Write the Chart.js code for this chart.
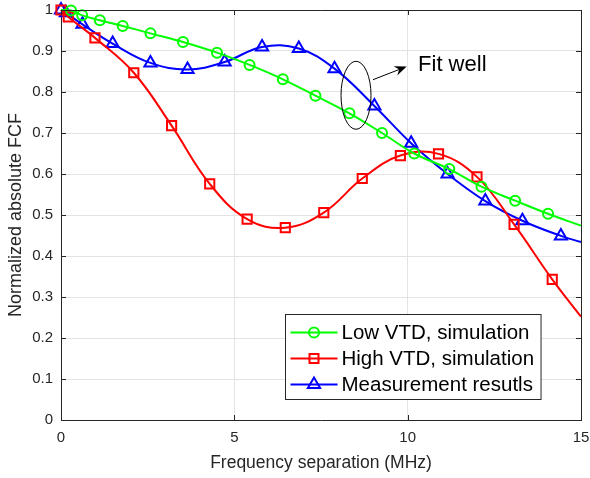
<!DOCTYPE html>
<html lang="en">

<head>
  <meta charset="UTF-8" />
  <title>Normalized absolute FCF vs frequency separation</title>
  <script src="https://cdn.jsdelivr.net/npm/chart.js"></script>
  <style>
    html, body { margin: 0; padding: 0; background: #fff; }
    #wrap { width: 590px; height: 478px; }
  </style>
</head>

<body>
  <div id="wrap"><canvas id="fcfChart"></canvas></div>

  <script>
    // values: x in MHz, y = normalized absolute FCF
    // first/last entries with no marker are only where the curve starts/ends
    const lowVtdX = [0, 0.29, 0.61, 1.12, 1.78, 2.58, 3.52, 4.5, 5.44, 6.4, 7.34, 8.32, 9.26, 10.19, 11.2, 12.13, 13.1, 14.05, 15];
    const lowVtdY = [1.0, 0.999, 0.987, 0.975, 0.961, 0.943, 0.922, 0.896, 0.866, 0.831, 0.791, 0.748, 0.700, 0.650, 0.612, 0.569, 0.535, 0.503, 0.474];
    const lowVtdNoMark = [0, 18];

    const highVtdX = [0, 0.21, 0.98, 2.1, 3.19, 4.29, 5.37, 6.47, 7.58, 8.69, 9.79, 10.89, 12.0, 13.07, 14.17, 15];
    const highVtdY = [1.0, 0.983, 0.932, 0.847, 0.718, 0.576, 0.490, 0.469, 0.506, 0.589, 0.645, 0.649, 0.593, 0.477, 0.343, 0.252];
    const highVtdNoMark = [15];

    const measX = [0, 0.14, 0.62, 1.49, 2.58, 3.65, 4.72, 5.8, 6.86, 7.89, 9.04, 10.1, 11.15, 12.24, 13.31, 14.42, 15];
    const measY = [1.0, 0.993, 0.965, 0.918, 0.871, 0.855, 0.873, 0.910, 0.906, 0.857, 0.766, 0.675, 0.600, 0.534, 0.486, 0.449, 0.434];
    const measNoMark = [16];

    const seriesLabels = ["Low VTD, simulation", "High VTD, simulation", "Measurement resutls"];
    const xTicks = [0, 5, 10, 15];
    const yTicks = [0, 0.1, 0.2, 0.3, 0.4, 0.5, 0.6, 0.7, 0.8, 0.9, 1];

    const FONT = '"Liberation Sans", Arial, Helvetica, sans-serif';
    const AXIS_COLOR = "#262626";

    function toPoints(xs, ys) {
      return xs.map((x, i) => ({ x: x, y: ys[i] }));
    }

    function makeSet(label, xs, ys, noMark, color, style, radius) {
      return {
        label: label,
        data: toPoints(xs, ys),
        borderColor: color,
        backgroundColor: "rgba(0,0,0,0)",
        borderWidth: 2,
        tension: 0.4,
        pointStyle: style,
        pointRadius: ctx => noMark.includes(ctx.dataIndex) ? 0 : radius,
        pointBorderWidth: 2,
        pointBorderColor: color,
        pointBackgroundColor: "rgba(0,0,0,0)",
        clip: false
      };
    }

    // draws the rest of the matlab look: box, inner ticks, legend, "Fit well" note
    const figureExtras = {
      id: "figureExtras",
      afterDraw(chart) {
        const ctx = chart.ctx;
        const area = chart.chartArea;
        const xs = chart.scales.x;
        const ys = chart.scales.y;

        ctx.save();
        // box and inward ticks
        ctx.strokeStyle = AXIS_COLOR;
        ctx.lineWidth = 1;
        ctx.beginPath();
        ctx.moveTo(area.left, area.top + 0.5);
        ctx.lineTo(area.right + 0.5, area.top + 0.5);
        ctx.lineTo(area.right + 0.5, area.bottom);
        xTicks.forEach(v => {
          const px = Math.round(xs.getPixelForValue(v)) + 0.5;
          ctx.moveTo(px, area.bottom); ctx.lineTo(px, area.bottom - 5);
          ctx.moveTo(px, area.top); ctx.lineTo(px, area.top + 5);
        });
        yTicks.forEach(v => {
          const py = Math.round(ys.getPixelForValue(v)) + 0.5;
          ctx.moveTo(area.left, py); ctx.lineTo(area.left + 5, py);
          ctx.moveTo(area.right, py); ctx.lineTo(area.right - 5, py);
        });
        ctx.stroke();

        // annotation: ellipse + arrow + text
        const ex = xs.getPixelForValue(8.51);
        const ey = ys.getPixelForValue(0.792);
        ctx.strokeStyle = "#000";
        ctx.lineWidth = 1;
        ctx.beginPath();
        ctx.ellipse(ex, ey, 15, 34, 0, 0, Math.PI * 2);
        ctx.stroke();

        const ax0 = xs.getPixelForValue(9.0), ay0 = ys.getPixelForValue(0.83);
        const ax1 = xs.getPixelForValue(9.97), ay1 = ys.getPixelForValue(0.862);
        const ang = Math.atan2(ay1 - ay0, ax1 - ax0);
        ctx.beginPath();
        ctx.moveTo(ax0, ay0);
        ctx.lineTo(ax1 - 6 * Math.cos(ang), ay1 - 6 * Math.sin(ang));
        ctx.stroke();
        ctx.fillStyle = "#000";
        ctx.beginPath();
        ctx.moveTo(ax1, ay1);
        ctx.lineTo(ax1 - 12 * Math.cos(ang) + 5 * Math.sin(ang), ay1 - 12 * Math.sin(ang) - 5 * Math.cos(ang));
        ctx.lineTo(ax1 - 8 * Math.cos(ang), ay1 - 8 * Math.sin(ang));
        ctx.lineTo(ax1 - 12 * Math.cos(ang) - 5 * Math.sin(ang), ay1 - 12 * Math.sin(ang) + 5 * Math.cos(ang));
        ctx.closePath();
        ctx.fill();

        ctx.font = "22px " + FONT;
        ctx.textBaseline = "middle";
        ctx.textAlign = "left";
        ctx.fillText("Fit well", xs.getPixelForValue(10.3), ys.getPixelForValue(0.866));

        // legend, lower right inside the axes
        ctx.font = "20.5px " + FONT;
        const textW = Math.max(...seriesLabels.map(t => ctx.measureText(t).width));
        const boxW = 56 + textW + 7;
        const boxH = 85;
        const bx = Math.round(area.right - 40 - boxW) + 0.5;
        const by = Math.round(area.bottom - 21 - boxH) + 0.5;
        ctx.fillStyle = "#fff";
        ctx.fillRect(bx, by, boxW, boxH);
        ctx.strokeStyle = "#262626";
        ctx.strokeRect(bx, by, boxW, boxH);

        chart.data.datasets.forEach((ds, i) => {
          const ry = by + 18 + i * 26;
          ctx.strokeStyle = ds.borderColor;
          ctx.lineWidth = 2;
          ctx.beginPath();
          ctx.moveTo(bx + 5, ry);
          ctx.lineTo(bx + 52, ry);
          ctx.stroke();
          const mx = bx + 28.5;
          ctx.beginPath();
          if (ds.pointStyle === "circle") {
            ctx.arc(mx, ry, 5, 0, Math.PI * 2);
          } else if (ds.pointStyle === "rect") {
            ctx.rect(mx - 4.5, ry - 4.5, 9, 9);
          } else {
            ctx.moveTo(mx, ry - 7);
            ctx.lineTo(mx + 6.1, ry + 3.5);
            ctx.lineTo(mx - 6.1, ry + 3.5);
            ctx.closePath();
          }
          ctx.stroke();
          ctx.fillStyle = "#000";
          ctx.fillText(seriesLabels[i], bx + 56, ry + 1);
        });
        ctx.restore();
      }
    };

    Chart.defaults.font.family = FONT;
    Chart.defaults.color = AXIS_COLOR;

    new Chart(document.getElementById("fcfChart"), {
      type: "line",
      data: {
        datasets: [
          makeSet(seriesLabels[0], lowVtdX, lowVtdY, lowVtdNoMark, "#00ff00", "circle", 5),
          makeSet(seriesLabels[1], highVtdX, highVtdY, highVtdNoMark, "#ff0000", "rect", 6.5),
          makeSet(seriesLabels[2], measX, measY, measNoMark, "#0000ff", "triangle", 7)
        ]
      },
      options: {
        responsive: true,
        maintainAspectRatio: false,
        animation: false,
        layout: { padding: { top: 10, right: 8, left: 0, bottom: 0 } },
        plugins: {
          legend: { display: false },
          tooltip: { enabled: false }
        },
        scales: {
          x: {
            type: "linear",
            min: 0,
            max: 15,
            afterBuildTicks: scale => { scale.ticks = xTicks.map(v => ({ value: v })); },
            afterFit: scale => {
              scale.height = 58;
              scale.paddingLeft = 0;
              scale.paddingRight = 0;
            },
            ticks: { font: { size: 15 }, color: AXIS_COLOR, padding: 9, maxRotation: 0 },
            grid: { color: "#e3e3e3", drawTicks: false },
            border: { color: AXIS_COLOR, width: 1 },
            title: {
              display: true,
              text: "Frequency separation (MHz)",
              font: { size: 17.5 },
              color: AXIS_COLOR,
              padding: { top: 0, bottom: 4 }
            }
          },
          y: {
            min: 0,
            max: 1,
            afterBuildTicks: scale => { scale.ticks = yTicks.map(v => ({ value: v })); },
            afterFit: scale => {
              scale.width = 61;
              scale.paddingTop = 0;
              scale.paddingBottom = 0;
            },
            ticks: {
              font: { size: 15 },
              color: AXIS_COLOR,
              padding: 8,
              callback: v => (v === 0 || v === 1) ? String(v) : v.toFixed(1)
            },
            grid: { color: "#e3e3e3", drawTicks: false },
            border: { color: AXIS_COLOR, width: 1 },
            title: {
              display: true,
              text: "Normalized absolute FCF",
              font: { size: 18 },
              color: AXIS_COLOR,
              padding: { top: 5, bottom: 0 }
            }
          }
        }
      },
      plugins: [figureExtras]
    });
  </script>
</body>

</html>
